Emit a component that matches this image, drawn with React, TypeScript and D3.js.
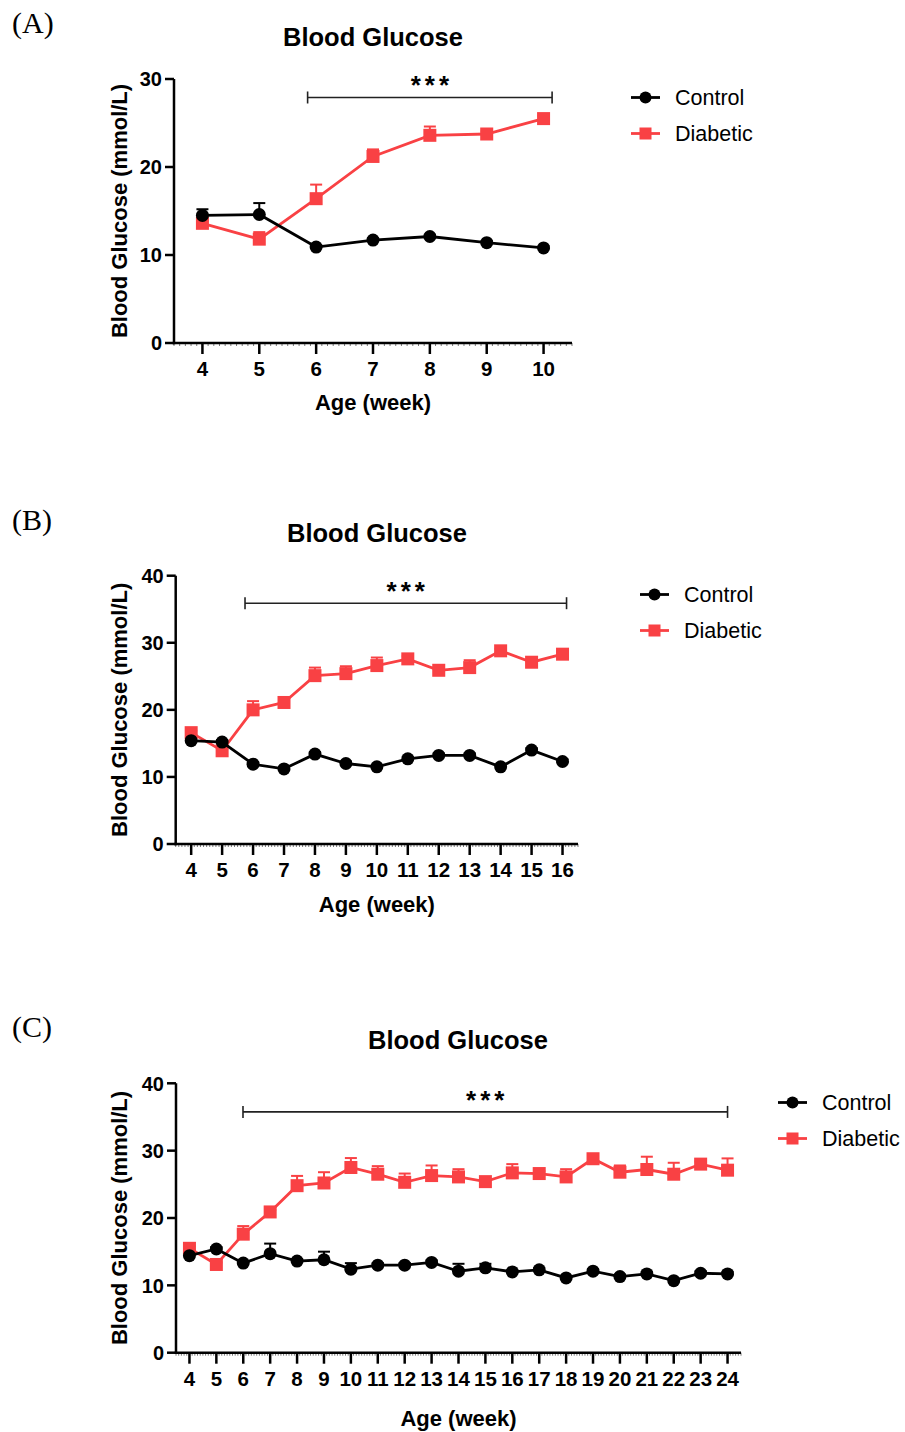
import React from "react";
import * as d3 from "d3";

const RED = "#f94144";
const BLACK = "#000000";

// Panel A (weeks 4-10)
const weeksA = [4, 5, 6, 7, 8, 9, 10];
const controlA = [14.5, 14.6, 10.9, 11.7, 12.1, 11.4, 10.8];
const controlErrA = [0.7, 1.3, 0.2, 0.2, 0.2, 0.2, 0.2];
const diabeticA = [13.6, 11.8, 16.4, 21.2, 23.6, 23.75, 25.5];
const diabeticErrA = [0.3, 0.8, 1.6, 0.8, 1.0, 0.3, 0.3];
const yTicksA = [0, 10, 20, 30];

// Panel B (weeks 4-16)
const weeksB = [4, 5, 6, 7, 8, 9, 10, 11, 12, 13, 14, 15, 16];
const controlB = [15.4, 15.2, 11.9, 11.2, 13.4, 12.0, 11.5, 12.7, 13.2, 13.2, 11.5, 14.0, 12.3];
const controlErrB = [0.8, 0.3, 0.3, 0.3, 0.3, 0.3, 0.3, 0.3, 0.3, 0.3, 0.3, 0.3, 0.3];
const diabeticB = [16.6, 13.9, 20.0, 21.1, 25.1, 25.4, 26.6, 27.6, 25.9, 26.3, 28.8, 27.1, 28.3];
const diabeticErrB = [0.3, 0.3, 1.3, 0.3, 1.2, 1.1, 1.2, 0.4, 0.5, 1.1, 0.3, 0.4, 0.4];
const yTicksBC = [0, 10, 20, 30, 40];

// Panel C (weeks 4-24)
const weeksC = [4, 5, 6, 7, 8, 9, 10, 11, 12, 13, 14, 15, 16, 17, 18, 19, 20, 21, 22, 23, 24];
const controlC = [14.4, 15.4, 13.3, 14.7, 13.6, 13.8, 12.4, 13.0, 13.0, 13.4, 12.1, 12.6, 12.0, 12.3, 11.1, 12.1, 11.3, 11.7, 10.7, 11.8, 11.7];
const controlErrC = [0.3, 0.3, 0.3, 1.5, 0.3, 1.2, 0.9, 0.3, 0.3, 0.3, 1.1, 0.6, 0.3, 0.3, 0.3, 0.3, 0.3, 0.3, 0.3, 0.3, 0.3];
const diabeticC = [15.5, 13.1, 17.6, 20.9, 24.8, 25.2, 27.5, 26.5, 25.3, 26.3, 26.1, 25.4, 26.7, 26.6, 26.1, 28.8, 26.8, 27.2, 26.5, 28.0, 27.1];
const diabeticErrC = [0.3, 0.3, 1.2, 0.3, 1.45, 1.6, 1.4, 1.2, 1.3, 1.5, 1.15, 0.4, 1.3, 0.4, 1.15, 0.4, 1.0, 1.9, 1.7, 0.4, 1.75];

const sigA = [5.85, 10.15, 27.9];
const sigB = [5.74, 16.13, 35.9];
const sigC = [5.99, 24.0, 35.75];

const FONT = "'Liberation Sans', Arial, sans-serif";

type PanelProps = {
  label: string;
  labelY: number;
  weeks: number[];
  control: number[];
  controlErr: number[];
  diabetic: number[];
  diabeticErr: number[];
  yTicks: number[];
  xDomain: [number, number];
  yMax: number;
  x0: number;
  x1: number;
  yTop: number;
  yBottom: number;
  sig: number[];
  titleX: number;
  titleY: number;
  xTitleY: number;
  legendX: number;
  legendY: number;
};

function Panel(p: PanelProps) {
  const x = d3.scaleLinear().domain(p.xDomain).range([p.x0, p.x1]);
  const y = d3.scaleLinear().domain([0, p.yMax]).range([p.yBottom, p.yTop]);
  const line = d3
    .line<number>()
    .x((_, i) => x(p.weeks[i]))
    .y((v) => y(v));
  const minor = d3.range(p.xDomain[0], p.xDomain[1] + 1e-6, 0.1);
  const capW = 6;
  const sq = 13;
  return (
    <g>
      <text x={12} y={p.labelY} fontFamily="'Liberation Serif', 'Times New Roman', serif" fontSize={30}>
        {p.label}
      </text>
      <text x={p.titleX} y={p.titleY} textAnchor="middle" fontFamily={FONT} fontWeight="bold" fontSize={25.5}>
        Blood Glucose
      </text>
      {/* minor ticks */}
      {minor.map((m, i) => (
        <line key={"m" + i} x1={x(m)} x2={x(m)} y1={p.yBottom} y2={p.yBottom + 3} stroke="#555" strokeWidth={0.8} />
      ))}
      {/* axes */}
      <line x1={p.x0} x2={p.x0} y1={p.yTop} y2={p.yBottom + 1.25} stroke={BLACK} strokeWidth={2.5} />
      <line x1={p.x0 - 1.25} x2={p.x1} y1={p.yBottom} y2={p.yBottom} stroke={BLACK} strokeWidth={2.5} />
      {p.yTicks.map((t) => (
        <g key={"y" + t}>
          <line x1={p.x0 - 9} x2={p.x0} y1={y(t)} y2={y(t)} stroke={BLACK} strokeWidth={2.5} />
          <text x={p.x0 - 12} y={y(t)} dy="0.36em" textAnchor="end" fontFamily={FONT} fontWeight="bold" fontSize={20}>
            {t}
          </text>
        </g>
      ))}
      {p.weeks.map((w) => (
        <g key={"x" + w}>
          <line x1={x(w)} x2={x(w)} y1={p.yBottom} y2={p.yBottom + 11} stroke={BLACK} strokeWidth={2.5} />
          <text x={x(w)} y={p.yBottom + 33} textAnchor="middle" fontFamily={FONT} fontWeight="bold" fontSize={20.5}>
            {w}
          </text>
        </g>
      ))}
      <text x={(p.x0 + p.x1) / 2} y={p.xTitleY} textAnchor="middle" fontFamily={FONT} fontWeight="bold" fontSize={22}>
        Age (week)
      </text>
      <text
        transform={`translate(127, ${(p.yTop + p.yBottom) / 2}) rotate(-90)`}
        textAnchor="middle"
        fontFamily={FONT}
        fontWeight="bold"
        fontSize={22}
      >
        Blood Glucose (mmol/L)
      </text>
      {/* significance bar */}
      <g stroke="#222" strokeWidth={1.6}>
        <line x1={x(p.sig[0])} x2={x(p.sig[1])} y1={y(p.sig[2])} y2={y(p.sig[2])} />
        <line x1={x(p.sig[0])} x2={x(p.sig[0])} y1={y(p.sig[2]) - 6} y2={y(p.sig[2]) + 6} />
        <line x1={x(p.sig[1])} x2={x(p.sig[1])} y1={y(p.sig[2]) - 6} y2={y(p.sig[2]) + 6} />
      </g>
      <text
        x={(x(p.sig[0]) + x(p.sig[1])) / 2 + 2}
        y={y(p.sig[2]) - 3}
        textAnchor="middle"
        fontFamily={FONT}
        fontWeight="bold"
        fontSize={26}
        letterSpacing={4}
      >
        ***
      </text>
      {/* diabetic error bars */}
      {p.diabetic.map((v, i) => (
        <g key={"de" + i} stroke={RED} strokeWidth={2}>
          <line x1={x(p.weeks[i])} x2={x(p.weeks[i])} y1={y(v)} y2={y(v + p.diabeticErr[i])} />
          <line x1={x(p.weeks[i]) - capW} x2={x(p.weeks[i]) + capW} y1={y(v + p.diabeticErr[i])} y2={y(v + p.diabeticErr[i])} />
        </g>
      ))}
      {/* control error bars */}
      {p.control.map((v, i) => (
        <g key={"ce" + i} stroke={BLACK} strokeWidth={2}>
          <line x1={x(p.weeks[i])} x2={x(p.weeks[i])} y1={y(v)} y2={y(v + p.controlErr[i])} />
          <line x1={x(p.weeks[i]) - capW} x2={x(p.weeks[i]) + capW} y1={y(v + p.controlErr[i])} y2={y(v + p.controlErr[i])} />
        </g>
      ))}
      <path d={line(p.diabetic) || ""} fill="none" stroke={RED} strokeWidth={2.8} />
      {p.diabetic.map((v, i) => (
        <rect key={"ds" + i} x={x(p.weeks[i]) - sq / 2} y={y(v) - sq / 2} width={sq} height={sq} fill={RED} />
      ))}
      <path d={line(p.control) || ""} fill="none" stroke={BLACK} strokeWidth={2.8} />
      {p.control.map((v, i) => (
        <circle key={"cc" + i} cx={x(p.weeks[i])} cy={y(v)} r={6.5} fill={BLACK} />
      ))}
      {/* legend */}
      <g>
        <line x1={p.legendX} x2={p.legendX + 29} y1={p.legendY} y2={p.legendY} stroke={BLACK} strokeWidth={2.8} />
        <circle cx={p.legendX + 14.5} cy={p.legendY} r={6} fill={BLACK} />
        <text x={p.legendX + 44} y={p.legendY} dy="0.36em" fontFamily={FONT} fontSize={21.5}>
          Control
        </text>
        <line x1={p.legendX} x2={p.legendX + 29} y1={p.legendY + 36} y2={p.legendY + 36} stroke={RED} strokeWidth={2.8} />
        <rect x={p.legendX + 14.5 - 6} y={p.legendY + 36 - 6} width={12} height={12} fill={RED} />
        <text x={p.legendX + 44} y={p.legendY + 36} dy="0.36em" fontFamily={FONT} fontSize={21.5}>
          Diabetic
        </text>
      </g>
    </g>
  );
}

export default function App() {
  return (
    <svg width={905} height={1432} style={{ position: "absolute", left: 0, top: 0, background: "#fff" }}>
      <rect x={0} y={0} width={905} height={1432} fill="#fff" />
      <Panel
        label="(A)"
        labelY={33}
        weeks={weeksA}
        control={controlA}
        controlErr={controlErrA}
        diabetic={diabeticA}
        diabeticErr={diabeticErrA}
        yTicks={yTicksA}
        xDomain={[3.5, 10.5]}
        yMax={30}
        x0={174}
        x1={572}
        yTop={79}
        yBottom={343}
        sig={sigA}
        titleX={373}
        titleY={46}
        xTitleY={410}
        legendX={631}
        legendY={97.5}
      />
      <Panel
        label="(B)"
        labelY={530}
        weeks={weeksB}
        control={controlB}
        controlErr={controlErrB}
        diabetic={diabeticB}
        diabeticErr={diabeticErrB}
        yTicks={yTicksBC}
        xDomain={[3.5, 16.5]}
        yMax={40}
        x0={175.7}
        x1={578}
        yTop={575.7}
        yBottom={844}
        sig={sigB}
        titleX={377}
        titleY={542}
        xTitleY={912}
        legendX={640}
        legendY={594.5}
      />
      <Panel
        label="(C)"
        labelY={1037}
        weeks={weeksC}
        control={controlC}
        controlErr={controlErrC}
        diabetic={diabeticC}
        diabeticErr={diabeticErrC}
        yTicks={yTicksBC}
        xDomain={[3.5, 24.5]}
        yMax={40}
        x0={176}
        x1={741}
        yTop={1083.3}
        yBottom={1352.7}
        sig={sigC}
        titleX={458}
        titleY={1049}
        xTitleY={1426}
        legendX={778}
        legendY={1102.5}
      />
    </svg>
  );
}
